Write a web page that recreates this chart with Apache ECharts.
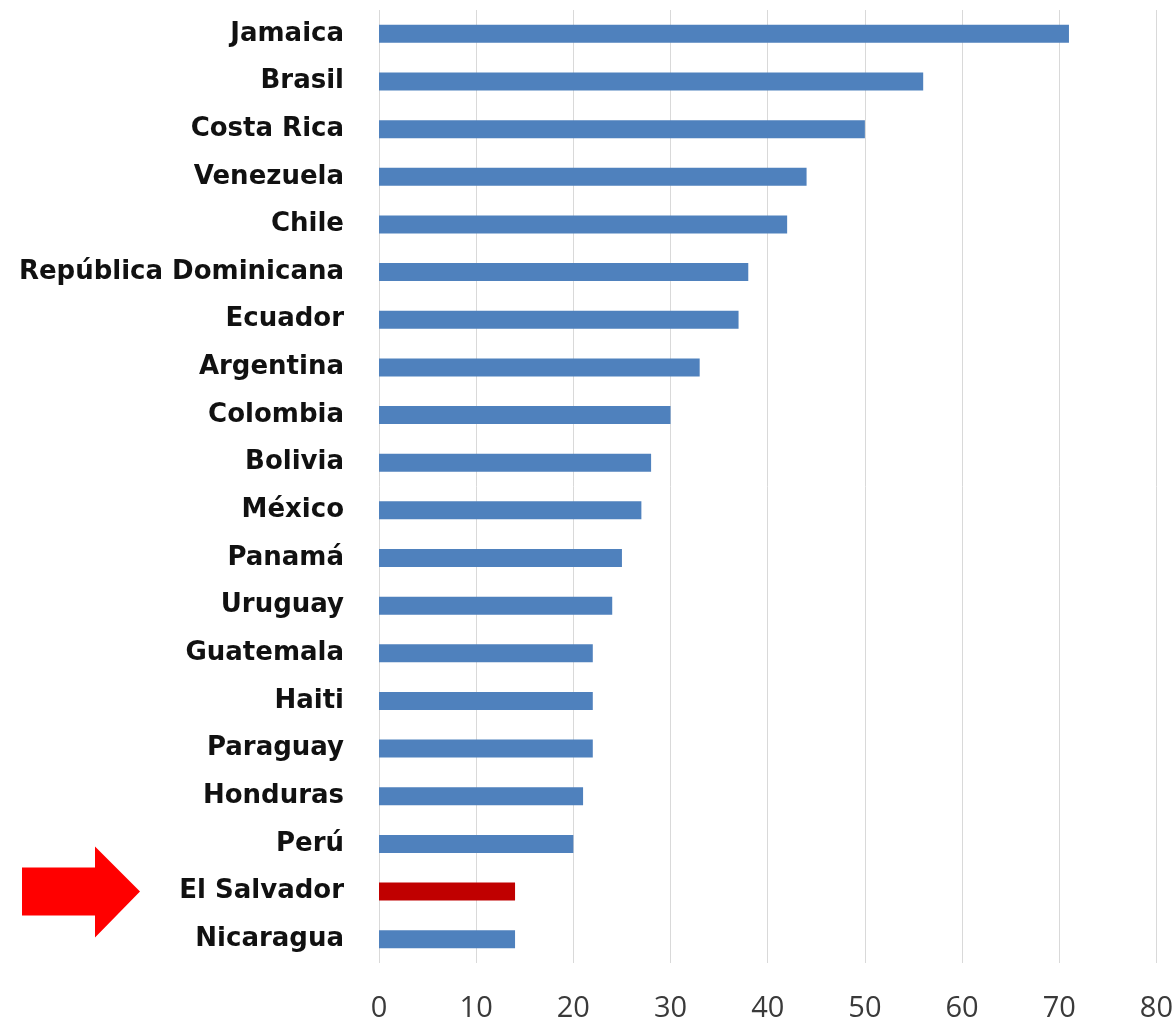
<!DOCTYPE html>
<html><head><meta charset="utf-8">
<script src="https://cdn.jsdelivr.net/npm/echarts@6/dist/echarts.min.js"></script>
<style>html,body{margin:0;padding:0;background:#fff}#c{width:1176px;height:1023px}</style>
</head><body><div id="c"></div>
<script>
const countries = ["Jamaica","Brasil","Costa Rica","Venezuela","Chile","República Dominicana","Ecuador","Argentina","Colombia","Bolivia","México","Panamá","Uruguay","Guatemala","Haiti","Paraguay","Honduras","Perú","El Salvador","Nicaragua"];
const values = [71,56,50,44,42,38,37,33,30,28,27,25,24,22,22,22,21,20,14,14];
const highlight = "El Salvador";
const xTicks = [0,10,20,30,40,50,60,70,80];

const chart = echarts.init(document.getElementById('c'));
chart.setOption({
  animation:false,
  backgroundColor:'#fff',
  grid:{left:379,right:17,top:10,bottom:59,containLabel:false},
  xAxis:{type:'value',min:xTicks[0],max:xTicks[xTicks.length-1],interval:10,
    axisLine:{show:false},axisTick:{show:false},
    axisLabel:{fontFamily:'Open Sans',fontSize:29,color:'#3a3a3a',margin:31},
    splitLine:{show:true,lineStyle:{color:'#d9d9d9',width:1}}},
  yAxis:{type:'category',data:countries,inverse:true,
    axisLine:{show:false},axisTick:{show:false},
    axisLabel:{fontFamily:'DejaVu Sans',fontWeight:'bold',fontSize:26,color:'#111',margin:35,padding:[4,0,0,0]}},
  series:[{type:'bar',barWidth:18,
    data:values.map((v,i)=>({value:v,itemStyle:{color:countries[i]===highlight?'#c00000':'#4f81bd'}}))}]
});
const yMid = chart.convertToPixel({yAxisIndex:0}, highlight);
chart.setOption({graphic:[{type:'polygon',shape:{points:[[22,yMid-24],[95,yMid-24],[95,yMid-45],[140,yMid],[95,yMid+46],[95,yMid+24],[22,yMid+24]]},style:{fill:'#ff0000'}}]});
</script></body></html>
